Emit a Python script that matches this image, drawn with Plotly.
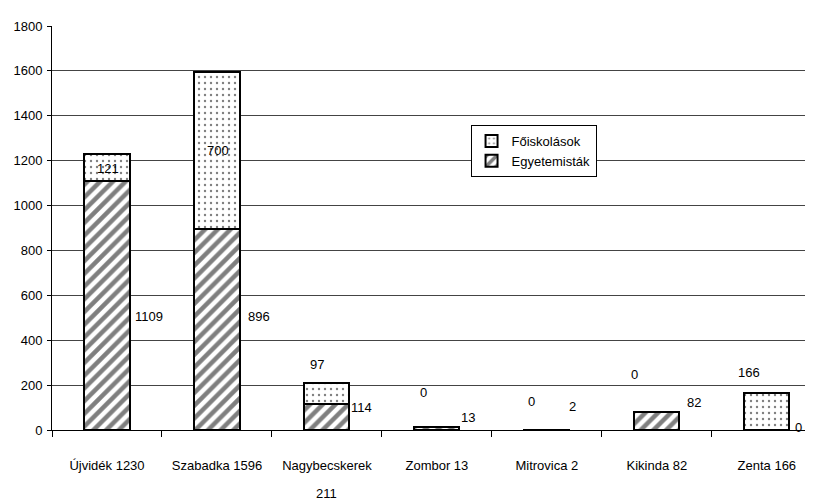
import plotly.graph_objects as go

categories = ["Újvidék 1230", "Szabadka 1596", "Nagybecskerek 211", "Zombor 13",
              "Mitrovica 2", "Kikinda 82", "Zenta 166"]
tick_labels = ["Újvidék 1230", "Szabadka 1596", "Nagybecskerek", "Zombor 13",
               "Mitrovica 2", "Kikinda 82", "Zenta 166"]
tick_second_line = ["", "", "211", "", "", "", ""]
egyetemistak = [1109, 896, 114, 13, 2, 82, 0]
foiskolasok = [121, 700, 97, 0, 0, 0, 166]

# label placement (style only): pixel x shift and y position (axis units)
egy_label_dx = [42, 42, 35, 31, 26, 37, 32]
egy_label_y = [505, 505, 100, 56, 104, 122, 11]
foi_label_dx = [1, 1, -10, -13, -15, -22, -18]
foi_label_y = [1167, 1247, 291, 167, 127, 247, 256]

FONT = "Liberation Sans Narrow, Arial Narrow, Liberation Sans, Arial, sans-serif"
FS = 13

fig = go.Figure()
fig.add_trace(go.Bar(
    x=categories, y=egyetemistak, name="Egyetemisták", width=0.41,
    marker=dict(color="white", line=dict(color="black", width=2),
                pattern=dict(shape="/", fgcolor="black", bgcolor="white", size=9, solidity=0.5)),
))
fig.add_trace(go.Bar(
    x=categories, y=foiskolasok, name="Főiskolások", width=0.41,
    marker=dict(color="white", line=dict(color="black", width=2),
                pattern=dict(shape=".", fgcolor="black", bgcolor="white", size=6, solidity=0.12)),
))

annotations = []
for c, v, dx, yy in zip(categories, egyetemistak, egy_label_dx, egy_label_y):
    annotations.append(dict(x=c, y=yy, text=str(v), xref="x", yref="y", xshift=dx,
                            showarrow=False, font=dict(size=FS, color="black", family=FONT)))
for c, v, dx, yy in zip(categories, foiskolasok, foi_label_dx, foi_label_y):
    annotations.append(dict(x=c, y=yy, text=str(v), xref="x", yref="y", xshift=dx,
                            showarrow=False, font=dict(size=FS, color="black", family=FONT)))
for c, t in zip(categories, tick_second_line):
    if t:
        annotations.append(dict(x=c, y=0, text=t, xref="x", yref="paper", yshift=-73,
                                showarrow=False, font=dict(size=FS, color="black", family=FONT)))

# page body adds an 8px margin, so the figure is offset by 8px right and down
fig.update_layout(
    barmode="stack",
    width=805, height=496,
    margin=dict(l=44, r=0, t=18, b=74),
    paper_bgcolor="white", plot_bgcolor="white",
    font=dict(family=FONT, size=FS, color="black"),
    showlegend=True,
    legend=dict(x=0.55, y=0.755, xanchor="left", yanchor="top",
                bgcolor="white", bordercolor="black", borderwidth=1,
                traceorder="reversed", font=dict(size=FS, family=FONT),
                itemwidth=30, tracegroupgap=0),
    xaxis=dict(range=[-0.5, 6.42], type="category", tickmode="array",
               tickvals=categories, ticktext=tick_labels,
               tickson="boundaries", ticks="outside", ticklen=6, tickcolor="black",
               showline=True, linecolor="black", linewidth=1, automargin=False,
               showgrid=False, ticklabelstandoff=23),
    yaxis=dict(range=[0, 1800], dtick=200, tick0=0, ticks="outside", ticklen=4,
               tickcolor="black", showline=True, linecolor="black", linewidth=1,
               showgrid=True, gridcolor="#444444", gridwidth=1, zeroline=False,
               automargin=False, ticklabelstandoff=2),
    annotations=annotations,
)

fig.write_html("out.html")
